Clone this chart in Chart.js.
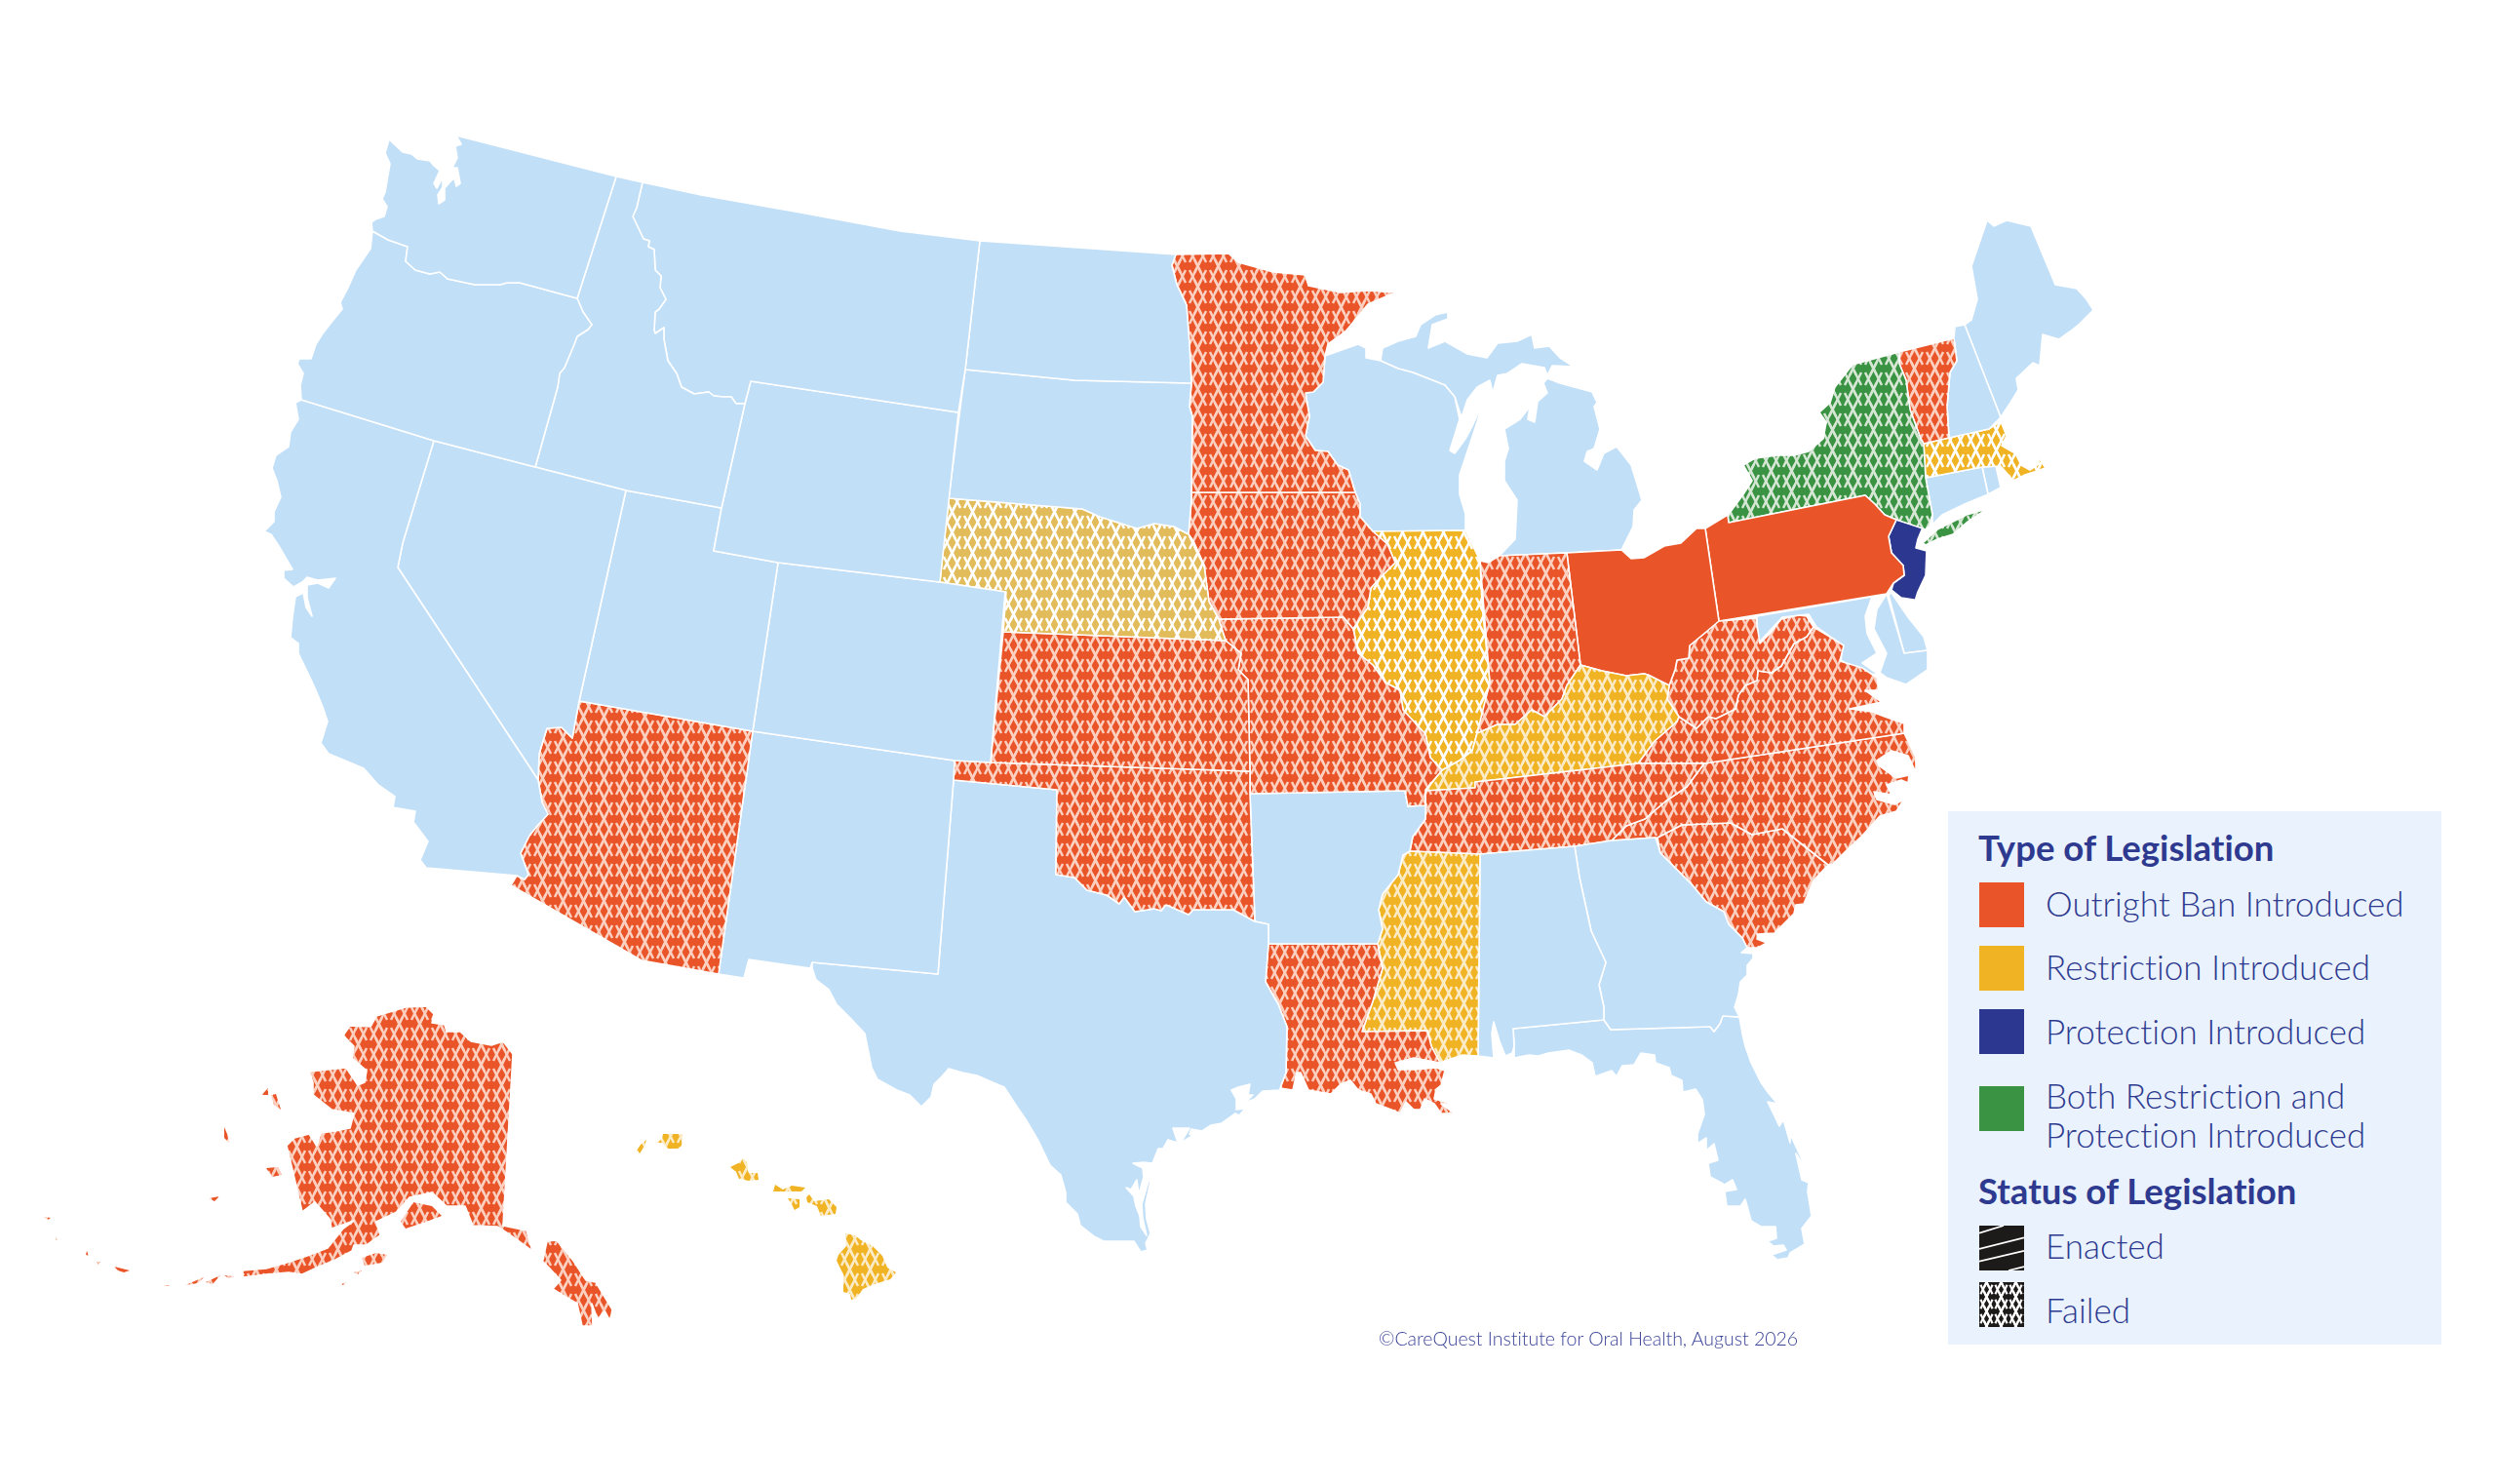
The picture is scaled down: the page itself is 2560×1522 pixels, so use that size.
<!DOCTYPE html>
<html>
<head>
<meta charset="utf-8">
<title>Legislation map</title>
<script src="https://cdn.jsdelivr.net/npm/chart.js@4/dist/chart.umd.min.js"></script>
<style>
  html, body { margin: 0; padding: 0; background: #fff; }
  #wrap { position: relative; width: 2560px; height: 1522px; overflow: hidden; font-family: Lato, sans-serif; color: #2E3A8F; font-variant-ligatures: none; }
  #mapChart { position: absolute; left: 0; top: 0; }
  #panel { position: absolute; left: 1998px; top: 832px; width: 506px; height: 547px; background: #EAF3FD; }
  .lab { position: absolute; white-space: nowrap; transform: translateY(-50%); font-size: 35px; font-weight: 300; line-height: 40px; }
  .head { position: absolute; white-space: nowrap; transform: translateY(-50%); font-size: 36.6px; font-weight: 700; line-height: 40px; }
  .sw { position: absolute; left: 2030px; width: 46px; height: 46px; }
  #credit { position: absolute; left: 1414px; top: 1372px; transform: translateY(-50%); font-size: 19.5px; font-weight: 300; color: #3A4497; white-space: nowrap; }
</style>
</head>
<body>
<div id="wrap">
  <canvas id="mapChart" width="2560" height="1522"></canvas>
  <div id="panel"></div>
  <div id="credit">©CareQuest Institute for Oral Health, August 2026</div>
</div>
<script>
const rev = a => [...a].reverse();

// legend text
const typeTitle = 'Type of Legislation';
const typeLabels = ['Outright Ban Introduced', 'Restriction Introduced', 'Protection Introduced', 'Both Restriction and', 'Protection Introduced'];
const statusTitle = 'Status of Legislation';
const statusLabels = ['Enacted', 'Failed'];

// which state falls in which group
const noBill = ['WA','OR','CA','NV','ID','MT','WY','UT','CO','NM','ND','SD','TX','AR','WI','MI','AL','GA','FL','ME','NH','CT','RI','MD','DE'];
const banFailed = ['AK','AZ','KS','OK','MO','IA','MN','LA','TN','IN','WV','VA','NC','SC','VT'];
const banEnacted = ['OH','PA'];
const restrictionFailed = ['IL','KY','MS','MA','HI','NE'];
const protectionEnacted = ['NJ'];
const bothFailed = ['NY'];

// shared borders, map units
const waOrRiver = [[592,306],[533,290],[520,290],[513,292],[487,292],[459,286],[451,279],[441,281],[426,277],[416,268],[418,253],[398,246],[382,237]];
const orIdRiver = [[592,306],[598,320],[607,333],[603,338],[592,345],[589,353],[579,377],[574,383],[572,397],[549,479]];
const idMtLine = [[659,187],[653,213],[649,222],[660,245],[666,247],[665,253],[671,256],[672,277],[678,283],[677,295],[683,307],[676,317],[672,320],[671,338],[672,342],[681,336],[681,348],[685,370],[694,383],[699,397],[712,404],[727,402],[732,406],[742,407],[750,407],[755,414],[764,414]];
const azRiver = [[587,757],[576,746],[561,747],[553,773],[552,800]];
const azCaRiver = [[552,800],[556,823],[562,835],[551,847],[543,857],[534,875],[542,897],[538,902],[530,898]];
const neTop = [[973,511],[1110,522],[1128,530],[1166,542],[1184,537],[1204,540],[1219,548]];
const iaWest = [[1219,548],[1224,555],[1235,580],[1240,617],[1250,635]];
const okBottom = [[1287,945],[1265,933],[1224,933],[1219,938],[1196,928],[1191,934],[1184,932],[1164,935],[1153,920],[1148,927],[1135,918],[1115,913],[1102,900],[1083,897],[1084,810]];
const moWest = [[1257,657],[1273,670],[1270,687],[1280,697],[1282,791]];
const mnWiLine = [[1359,365],[1357,392],[1347,402],[1339,403],[1343,427],[1339,447],[1349,462],[1362,463],[1372,477],[1383,482],[1390,505]];
const iaEastTop = [[1390,505],[1395,517],[1395,530],[1408,545]];
const iaIlLine = [[1408,545],[1423,558],[1431,577],[1416,592],[1406,603],[1403,623],[1393,637],[1388,645]];
const moEast = [[1388,645],[1393,670],[1408,682],[1421,700],[1436,708],[1439,728],[1462,753],[1467,777],[1479,790]];
const kyIl = [[1479,790],[1497,780],[1510,770],[1515,752]];
const ilIn = [[1515,752],[1528,700],[1520,620],[1518,575]];
const kyNorth = [[1515,752],[1536,743],[1554,743],[1571,728],[1584,735],[1602,717],[1607,703],[1621,682]];
const kyOh = [[1621,682],[1643,688],[1668,693],[1686,691],[1690,692],[1712,703]];
const ohWv = [[1712,703],[1718,687],[1720,677],[1732,675],[1733,662],[1750,648],[1758,630],[1763,637]];
const kyWv = [[1712,703],[1710,717],[1722,735]];
const kyVa = [[1722,735],[1720,740],[1697,760],[1680,783]];
const kyTn = [[1680,783],[1513,802],[1513,808],[1462,811]];
const wvVa = [[1722,735],[1740,747],[1752,735],[1760,737],[1780,727],[1783,713],[1790,703],[1802,698],[1803,688],[1817,690],[1827,683],[1840,660],[1853,653],[1860,643]];
const tnNc = [[1748,783],[1730,807],[1708,822],[1687,840],[1668,847],[1653,862]];
const ncSc = [[1700,859],[1725,846],[1775,844],[1797,856],[1828,850],[1875,887]];
const gaSc = [[1703,875],[1735,907],[1750,925],[1768,935],[1773,948],[1787,962],[1792,972]];
const alGa = [[1615,868],[1620,900],[1632,955],[1647,987],[1640,1010],[1645,1033],[1645,1046]];
const gaFl = [[1645,1046],[1652,1056],[1754,1053],[1758,1058],[1764,1050],[1767,1042],[1784,1043]];
const arMs = [[1446,873],[1439,877],[1434,897],[1418,917],[1414,933],[1418,953],[1413,968]];
const arTn = [[1462,826],[1462,840],[1449,858],[1446,873]];
const laMs = [[1413,968],[1418,993],[1408,1027],[1397,1058],[1464,1057],[1468,1073],[1477,1090]];
const txLa = [[1301,968],[1298,1007],[1311,1030],[1320,1053],[1319,1100],[1313,1116]];
const wiMi = [[1416,370],[1434,378],[1449,382],[1482,395],[1492,407],[1497,430]];
const nyPa = [[1773,536],[1913,508],[1923,517],[1933,528],[1945,533]];
const paNj = [[1945,533],[1937,550],[1940,567],[1952,580],[1953,590],[1942,598]];
const nyVt = [[1948,361],[1948,373],[1955,390],[1959,420],[1970,450],[1973,455]];
const vtNh = [[2004,347],[2007,370],[2000,382],[1997,417],[1999,449]];

// state outlines, map units
const washington = [[399,143],[413,156],[422,158],[428,163],[441,165],[445,170],[451,175],[445,188],[448,193],[454,182],[454,192],[449,200],[450,209],[456,205],[456,193],[463,185],[466,183],[468,191],[472,188],[469,172],[464,172],[469,162],[467,150],[473,148],[468,139],[632,181],...waOrRiver,[381,228],[385,225],[394,222],[397,212],[392,204],[395,197],[397,185],[400,168],[395,157]];
const oregon = [[382,237],...rev(waOrRiver),...orIdRiver,[445,452],[309,410],[308,395],[311,383],[305,373],[307,368],[319,368],[324,353],[331,342],[342,328],[351,317],[349,310],[357,295],[365,277],[380,255]];
const california = [[309,410],[445,452],[413,557],[408,582],[552,800],...azCaRiver.slice(1),[437,890],[431,882],[439,863],[424,843],[426,832],[403,828],[405,817],[388,805],[373,788],[354,780],[337,773],[329,762],[336,740],[331,725],[324,708],[319,697],[306,670],[306,660],[298,654],[300,633],[303,612],[311,608],[314,623],[320,632],[315,613],[315,600],[326,598],[337,603],[344,593],[326,595],[315,592],[310,597],[301,602],[291,593],[291,585],[300,584],[293,572],[286,560],[278,548],[271,545],[281,535],[281,525],[288,510],[284,493],[279,480],[283,467],[296,458],[298,443],[306,430],[303,413]];
const nevada = [[445,452],[549,479],[642,503],[594,719],...azRiver,[408,582],[413,557]];
const idaho = [[632,181],...idMtLine,[740,521],[642,503],[549,479],...rev(orIdRiver)];
const montana = [[659,187],[719,200],[821,218],[923,237],[1005,247],[990,379],[983,423],[770,391],[764,414],...rev(idMtLine).slice(1)];
const wyoming = [[770,391],[983,423],[964,597],[798,577],[732,565],[740,521],[764,414]];
const utah = [[642,503],[740,521],[732,565],[798,577],[772,750],[594,719]];
const colorado = [[798,577],[964,597],[1031,607],[1016,782],[979,780],[772,750]];
const arizona = [[594,719],[772,750],[737,999],[658,985],[524,908],...rev(azCaRiver),...rev(azRiver).slice(1)];
const newMexico = [[772,750],[979,780],[978,800],[962,999],[833,987],[831,993],[768,984],[763,1003],[737,999]];
const northDakota = [[1005,247],[1206,261],[1202,272],[1207,292],[1217,313],[1220,353],[1222,393],[1102,390],[990,379]];
const southDakota = [[990,379],[1102,390],[1222,393],[1220,417],[1223,427],[1222,505],[1222,513],...rev(neTop)];
const nebraska = [...neTop,...iaWest.slice(1),[1257,657],[1029,648],[1032,607],[964,597]];
const kansas = [[1029,648],...moWest,[1016,782]];
const oklahoma = [[979,780],[1016,782],[1282,791],[1282,814],...okBottom,[978,800]];
const texas = [[978,800],...rev(okBottom),[1301,948],...txLa,[1312,1118],[1295,1119],[1287,1127],[1277,1131],[1285,1123],[1280,1123],[1282,1112],[1270,1115],[1263,1118],[1268,1127],[1268,1138],[1277,1137],[1271,1144],[1267,1142],[1260,1147],[1253,1152],[1242,1154],[1233,1160],[1222,1158],[1220,1163],[1223,1165],[1211,1172],[1220,1157],[1210,1157],[1203,1157],[1208,1172],[1198,1169],[1193,1178],[1188,1178],[1182,1193],[1173,1192],[1162,1193],[1172,1198],[1173,1207],[1168,1225],[1166,1210],[1160,1220],[1155,1218],[1163,1227],[1165,1237],[1169,1247],[1170,1258],[1176,1267],[1172,1250],[1171,1235],[1178,1211],[1180,1212],[1175,1235],[1176,1250],[1180,1265],[1175,1275],[1177,1282],[1170,1284],[1163,1273],[1132,1273],[1122,1268],[1108,1257],[1105,1245],[1093,1233],[1093,1223],[1088,1205],[1077,1195],[1065,1170],[1052,1148],[1043,1135],[1030,1115],[1018,1110],[1002,1103],[987,1100],[973,1096],[967,1103],[958,1112],[955,1125],[945,1135],[933,1123],[920,1118],[900,1107],[894,1095],[887,1060],[873,1045],[858,1030],[850,1015],[837,1005],[833,993],[833,987],[962,999]];
const minnesota = [[1206,261],[1260,260],[1270,269],[1306,279],[1339,282],[1342,293],[1375,300],[1403,298],[1431,300],[1403,312],[1380,340],[1362,353],...mnWiLine,[1222,505],[1223,427],[1220,417],[1222,393],[1220,353],[1217,313],[1207,292],[1202,272]];
const iowa = [[1222,505],...rev(mnWiLine).slice(0,1),...iaEastTop.slice(1),...iaIlLine.slice(1),[1378,633],[1250,635],...rev(iaWest).slice(1),[1222,513]];
const missouri = [[1250,635],[1378,633],...moEast,[1462,810],[1462,826],[1444,827],[1441,811],[1282,814],...rev(moWest)];
const arkansas = [[1282,814],[1441,811],[1444,827],...arTn,...arMs.slice(1),[1301,968],[1301,948],[1287,945]];
const louisiana = [...txLa.slice(0,1),...laMs,[1450,1085],[1431,1090],[1434,1097],[1452,1097],[1473,1095],[1482,1098],[1478,1113],[1473,1117],[1471,1127],[1492,1133],[1478,1132],[1492,1142],[1478,1142],[1471,1132],[1461,1127],[1457,1138],[1450,1138],[1442,1130],[1436,1142],[1427,1138],[1411,1132],[1406,1122],[1393,1118],[1385,1108],[1375,1112],[1365,1122],[1342,1118],[1334,1100],[1330,1100],[1326,1118],...rev(txLa).slice(0,-1)];
const mississippi = [[1446,873],[1518,876],[1516,1083],[1500,1082],[1485,1087],[1477,1090],...rev(laMs).slice(1),...rev(arMs).slice(1)];
const alabama = [[1518,876],...alGa,[1552,1055],[1553,1073],[1551,1080],[1544,1083],[1538,1068],[1532,1048],[1530,1060],[1532,1085],[1516,1083]];
const georgia = [...alGa,...gaFl.slice(1),[1779,1033],[1783,1020],[1785,1007],[1792,1000],[1792,990],[1798,983],[1798,978],[1786,977],...rev(gaSc),[1698,859],[1653,862]];
const florida = [[1552,1055],...gaFl,[1787,1060],[1790,1073],[1796,1090],[1806,1110],[1813,1120],[1823,1132],[1813,1130],[1825,1155],[1829,1148],[1836,1172],[1836,1163],[1854,1202],[1842,1183],[1848,1210],[1855,1213],[1854,1222],[1858,1247],[1848,1260],[1851,1276],[1836,1285],[1834,1290],[1823,1292],[1817,1287],[1832,1282],[1829,1277],[1819,1278],[1813,1273],[1822,1270],[1821,1258],[1806,1258],[1796,1252],[1790,1230],[1785,1237],[1771,1237],[1769,1222],[1781,1220],[1777,1210],[1769,1215],[1754,1207],[1752,1193],[1762,1190],[1758,1173],[1750,1180],[1750,1167],[1741,1173],[1741,1163],[1748,1143],[1746,1128],[1739,1117],[1726,1120],[1725,1108],[1714,1103],[1712,1095],[1698,1090],[1697,1082],[1683,1080],[1676,1092],[1664,1093],[1658,1104],[1653,1098],[1636,1104],[1633,1090],[1622,1082],[1609,1077],[1588,1080],[1578,1083],[1568,1082],[1553,1085],[1553,1073]];
const tennessee = [...rev(kyTn),[1748,783],...tnNc,[1615,868],[1518,876],[1446,873],...rev(arTn).slice(1)];
const kentucky = [[1462,811],[1479,790],...kyIl.slice(1),...kyNorth.slice(1),...kyOh.slice(1),...kyWv.slice(1),...kyVa.slice(1),...kyTn.slice(1,-1)];
const illinois = [[1408,545],...iaIlLine.slice(1),...moEast.slice(1),...kyIl.slice(1),...ilIn.slice(1),[1503,544]];
const indiana = [[1518,575],[1526,577],[1538,570],[1607,567],[1621,682],...rev(kyNorth).slice(1),...rev(ilIn).slice(1,-1)];
const ohio = [[1607,567],[1663,564],[1673,573],[1686,572],[1707,560],[1724,557],[1740,542],[1749,542],[1763,637],...rev(ohWv).slice(2),...rev(kyOh)];
const westVirginia = [...ohWv,[1801,634],[1805,660],[1815,650],[1827,635],[1845,631],[1853,632],...rev(wvVa),...rev(kyWv).slice(1,-1)];
const virginia = [...wvVa,[1880,655],[1891,662],[1887,678],[1910,685],[1925,695],[1927,708],[1913,708],[1930,720],[1897,727],[1920,730],[1933,735],[1953,742],[1953,752],[1748,783],[1680,783],...rev(kyVa).slice(1,-1)];
const northCarolina = [[1748,783],...tnNc,[1700,859],...ncSc.slice(1),[1880,886],[1893,873],[1910,857],[1928,837],[1945,832],[1953,820],[1943,825],[1925,820],[1922,812],[1940,815],[1935,805],[1950,800],[1957,803],[1958,795],[1945,798],[1927,785],[1925,780],[1940,770],[1957,775],[1965,792],[1965,777],[1953,752]];
const southCarolina = [[1703,875],...ncSc,[1860,903],[1850,927],[1842,928],[1840,937],[1820,957],[1803,958],[1802,963],[1812,967],[1803,972],[1792,972],...rev(gaSc).slice(1,-1)];
const pennsylvania = [[1749,542],[1772,528],...nyPa,...paNj.slice(1),[1935,609],[1763,637]];
const newYork = [...nyPa,[1945,533],[1975,543],[1979,540],[1982,528],[1975,490],[1973,455],...rev(nyVt).slice(1),[1900,374],[1882,397],[1877,413],[1866,423],[1873,433],[1870,450],[1855,463],[1840,467],[1823,467],[1800,470],[1788,477],[1797,493],[1788,507],[1777,522],[1772,528]];
const longIsland = [[1972,557],[1987,543],[2017,528],[2038,522],[2017,536],[2003,548],[1987,553],[1975,559]];
const newJersey = [...paNj,[1940,605],[1950,613],[1963,615],[1962,623],[1967,607],[1975,590],[1976,565],[1965,562],[1967,553],[1972,541]];
const vermont = [...nyVt,...rev(vtNh)];
const newHampshire = [[2005,335],[2015,333],[2052,428],[2040,440],[1999,449],...rev(vtNh).slice(1)];
const maine = [[2015,333],[2022,328],[2028,307],[2022,273],[2038,226],[2045,232],[2058,226],[2083,232],[2108,292],[2130,296],[2140,307],[2147,318],[2133,332],[2123,340],[2112,348],[2095,343],[2092,375],[2085,372],[2068,388],[2070,400],[2062,413],[2052,428]];
const massachusetts = [[1973,455],[1999,449],[2040,440],[2052,432],[2058,447],[2053,457],[2067,465],[2073,477],[2082,482],[2092,475],[2087,463],[2098,480],[2077,487],[2065,493],[2052,478],[2033,479],[1975,490]];
const connecticut = [[1975,490],[2033,479],[2039,507],[2015,517],[1992,528],[1982,538],[1982,528]];
const rhodeIsland = [[2033,479],[2047,478],[2052,500],[2039,507]];
const marylandWest = [[1802,632],[1920,612],[1913,632],[1915,650],[1925,670],[1910,680],[1927,692],[1907,690],[1888,677],[1890,662],[1863,643],[1855,630],[1828,633],[1803,660]];
const marylandEast = [[1935,609],[1953,670],[1977,667],[1977,687],[1955,702],[1935,695],[1928,690],[1935,670],[1922,645],[1925,625]];
const delaware = [[1937,610],[1940,608],[1957,633],[1973,653],[1977,667],[1953,670]];
const wisconsin = [[1359,365],[1393,353],[1401,357],[1401,367],...wiMi,[1487,462],[1492,465],[1503,450],[1510,437],[1520,415],[1515,433],[1505,463],[1497,487],[1497,507],[1503,527],[1503,544],[1408,545],...rev(iaEastTop).slice(1),...rev(mnWiLine).slice(1,-1)];
const michiganUpper = [[1416,370],[1418,357],[1434,350],[1452,345],[1457,333],[1472,323],[1485,320],[1485,327],[1469,333],[1465,357],[1482,350],[1505,363],[1525,367],[1536,352],[1556,350],[1571,343],[1574,357],[1589,355],[1600,367],[1614,376],[1592,375],[1587,385],[1584,377],[1561,373],[1546,383],[1536,385],[1531,403],[1528,390],[1515,397],[1505,410],[1499,428],...rev(wiMi).slice(1,-1)];
const michiganLower = [[1587,388],[1600,393],[1633,402],[1638,413],[1635,417],[1641,440],[1635,460],[1628,463],[1625,473],[1638,482],[1645,465],[1658,458],[1673,477],[1681,503],[1684,513],[1676,523],[1675,540],[1663,564],[1607,567],[1538,570],[1554,553],[1556,513],[1543,493],[1543,473],[1547,460],[1543,440],[1559,430],[1569,417],[1567,430],[1574,433],[1577,412],[1587,403],[1583,393]];
const alaska = [[437,1032],[445,1040],[443,1049],[456,1051],[458,1058],[472,1058],[483,1068],[504,1072],[516,1068],[526,1081],[516,1257],[540,1262],[546,1283],[557,1292],[561,1273],[571,1272],[588,1293],[601,1313],[611,1315],[628,1343],[626,1355],[620,1345],[613,1353],[607,1337],[608,1360],[597,1360],[592,1337],[580,1330],[567,1322],[575,1313],[563,1300],[546,1283],[521,1265],[510,1258],[485,1257],[477,1237],[458,1237],[443,1223],[420,1228],[407,1243],[386,1253],[390,1267],[376,1277],[363,1277],[361,1283],[344,1292],[325,1300],[310,1307],[296,1305],[273,1307],[249,1310],[249,1303],[273,1301],[294,1295],[315,1288],[336,1280],[352,1260],[363,1252],[340,1260],[338,1250],[323,1233],[310,1243],[304,1217],[300,1200],[294,1175],[302,1167],[317,1163],[325,1175],[329,1162],[344,1160],[359,1157],[363,1142],[340,1138],[321,1123],[321,1110],[317,1099],[355,1095],[367,1113],[374,1110],[376,1098],[361,1085],[363,1073],[352,1062],[359,1052],[380,1053],[386,1042],[416,1033]];
const kenai = [[424,1233],[443,1237],[453,1247],[437,1253],[416,1260],[411,1253]];
const kodiak = [[386,1285],[397,1287],[392,1295],[374,1298],[371,1290]];
const alaskaIslands = [
  [[268,1123],[275,1116],[275,1123]], [[278,1123],[283,1122],[288,1138],[281,1133]], [[273,1198],[285,1197],[289,1205],[279,1207]],
  [[230,1156],[233,1163],[235,1172],[230,1167]], [[214,1229],[225,1227],[220,1232]], [[45,1248],[52,1249],[49,1251]],
  [[57,1268],[59,1272],[57,1272]], [[89,1283],[91,1288],[88,1287]], [[117,1299],[133,1303],[127,1305],[121,1303]],
  [[99,1294],[103,1294],[101,1297]], [[168,1318],[174,1318],[171,1319]], [[190,1318],[209,1310],[203,1316]],
  [[211,1315],[226,1308],[218,1317]], [[230,1308],[240,1309],[235,1311]], [[363,1305],[371,1303],[367,1307]], [[350,1317],[355,1315],[352,1318]]
];
const hawaiiIslands = [
  [[680,1163],[700,1163],[699,1175],[695,1178],[685,1178],[679,1172],[673,1172],[679,1168]],
  [[663,1169],[661,1177],[656,1183],[653,1180],[657,1174]],
  [[762,1188],[766,1192],[768,1203],[777,1203],[778,1210],[768,1211],[758,1209],[755,1202],[749,1197],[757,1193]],
  [[795,1215],[803,1220],[812,1216],[826,1218],[822,1222],[800,1222],[793,1222]],
  [[808,1229],[820,1230],[820,1238],[815,1241],[812,1235]],
  [[830,1225],[835,1232],[850,1230],[858,1238],[857,1245],[842,1247],[838,1237],[828,1233],[827,1228]],
  [[867,1265],[877,1267],[883,1272],[895,1278],[905,1288],[910,1300],[919,1305],[913,1312],[897,1317],[885,1322],[878,1332],[873,1333],[872,1327],[865,1325],[865,1307],[858,1293],[860,1287],[868,1278]]
];

const shapes = {
  WA:[washington], OR:[oregon], CA:[california], NV:[nevada], ID:[idaho], MT:[montana], WY:[wyoming], UT:[utah], CO:[colorado],
  AZ:[arizona], NM:[newMexico], ND:[northDakota], SD:[southDakota], NE:[nebraska], KS:[kansas], OK:[oklahoma], TX:[texas],
  MN:[minnesota], IA:[iowa], MO:[missouri], AR:[arkansas], LA:[louisiana], MS:[mississippi], AL:[alabama], GA:[georgia], FL:[florida],
  TN:[tennessee], KY:[kentucky], IL:[illinois], IN:[indiana], OH:[ohio], WV:[westVirginia], VA:[virginia], NC:[northCarolina], SC:[southCarolina],
  PA:[pennsylvania], NY:[newYork, longIsland], NJ:[newJersey], VT:[vermont], NH:[newHampshire], ME:[maine], MA:[massachusetts], CT:[connecticut], RI:[rhodeIsland],
  MD:[marylandWest, marylandEast], DE:[delaware], WI:[wisconsin], MI:[michiganUpper, michiganLower],
  AK:[alaska, kenai, kodiak, ...alaskaIslands], HI:hawaiiIslands
};

const BLUE = '#C2DFF8', ORANGE = '#E95529', YELLOW = '#F0B323', NAVY = '#2C3890', GREEN = '#3A9342', MUSTARD = '#E2BC5A';

// failed = column of diamonds, edges run on past the corners so they cross as an X
function latticeTile(size, fill, line, lw) {
  const c = document.createElement('canvas');
  c.width = size; c.height = size;
  const g = c.getContext('2d');
  g.fillStyle = fill;
  g.fillRect(0, 0, size, size);
  g.strokeStyle = line;
  g.lineWidth = lw;
  g.lineCap = 'butt';
  const hw = size * 0.25, hh = size * 0.5, t = 0.62;
  for (let ox = -size; ox <= size; ox += size) {
    for (let oy = -size; oy <= size; oy += size) {
      const cx = ox + size / 2, cy = oy + size / 2;
      [[1, 1], [-1, 1], [1, -1], [-1, -1]].forEach(s => {
        const ax = cx, ay = cy + s[1] * hh, bx = cx + s[0] * hw, by = cy;
        const dx = bx - ax, dy = by - ay;
        g.beginPath();
        g.moveTo(ax - dx * t, ay - dy * t);
        g.lineTo(bx + dx * t, by + dy * t);
        g.stroke();
      });
    }
  }
  return c;
}

const patternCtx = document.createElement('canvas').getContext('2d');
const failedFill = (fill, line) => patternCtx.createPattern(latticeTile(21, fill, line, 2.5), 'repeat');
const orangeLattice = failedFill(ORANGE, '#FBD0C0');
const yellowWhite = failedFill(YELLOW, '#FFFFFF');
const yellowCream = failedFill(YELLOW, '#FBEBC6');
const mustardLattice = failedFill(MUSTARD, '#FFFFFF');
const greenLattice = failedFill(GREEN, '#D6E6D4');

function stateFill(code) {
  if (noBill.includes(code)) return BLUE;
  if (banEnacted.includes(code)) return ORANGE;
  if (banFailed.includes(code)) return orangeLattice;
  if (protectionEnacted.includes(code)) return NAVY;
  if (bothFailed.includes(code)) return greenLattice;
  if (code === 'NE') return mustardLattice;
  if (code === 'IL' || code === 'MA') return yellowWhite;
  return yellowCream;
}

const datasets = [];
Object.keys(shapes).forEach(code => {
  const paint = stateFill(code);
  shapes[code].forEach(outline => {
    const data = outline.map(p => ({ x: p[0], y: p[1] }));
    data.push({ x: outline[0][0], y: outline[0][1] });
    const small = code === 'AK' && outline !== alaska || code === 'HI';
    datasets.push({
      label: code,
      data,
      showLine: true,
      fill: 'shape',
      backgroundColor: paint,
      borderColor: small ? 'rgba(255,255,255,0)' : '#FFFFFF',
      borderWidth: small ? 0 : 1.6,
      borderJoinStyle: 'round',
      pointRadius: 0,
      tension: 0,
      clip: false
    });
  });
});

new Chart(document.getElementById('mapChart').getContext('2d'), {
  type: 'scatter',
  data: { datasets },
  options: {
    responsive: false,
    devicePixelRatio: 1,
    animation: false,
    events: [],
    layout: { padding: 0 },
    plugins: { legend: { display: false }, tooltip: { enabled: false } },
    scales: {
      x: { type: 'linear', display: false, min: 0, max: 2560 },
      y: { type: 'linear', display: false, min: 0, max: 1522, reverse: true }
    }
  }
});

// legend panel
const wrap = document.getElementById('wrap');
function addText(cls, text, left, y) {
  const el = document.createElement('div');
  el.className = cls;
  el.textContent = text;
  el.style.left = left + 'px';
  el.style.top = y + 'px';
  wrap.appendChild(el);
}
function addSwatch(top, color) {
  const el = document.createElement('div');
  el.className = 'sw';
  el.style.top = top + 'px';
  el.style.background = color;
  wrap.appendChild(el);
}
function addCanvasSwatch(top, draw) {
  const c = document.createElement('canvas');
  c.className = 'sw';
  c.width = 46; c.height = 46;
  c.style.top = top + 'px';
  draw(c.getContext('2d'));
  wrap.appendChild(c);
}

addText('head', typeTitle, 2029, 869);
[[905, ORANGE], [970, YELLOW], [1035, NAVY], [1114, GREEN]].forEach(s => addSwatch(s[0], s[1]));
[925.5, 990.5, 1056.5, 1122.5, 1162.5].forEach((y, i) => addText('lab', typeLabels[i], 2098, y));
addText('head', statusTitle, 2029, 1220.5);
addText('lab', statusLabels[0], 2098, 1276.5);
addText('lab', statusLabels[1], 2098, 1342.5);

addCanvasSwatch(1257, g => {
  g.fillStyle = '#1D1A1A';
  g.fillRect(0, 0, 46, 46);
  g.strokeStyle = '#fff';
  g.lineWidth = 1.8;
  [[0, 7.6, 25, 0], [0, 24, 46, 12.4], [0, 36.7, 46, 25.8], [30, 46, 46, 42]].forEach(l => {
    g.beginPath(); g.moveTo(l[0], l[1]); g.lineTo(l[2], l[3]); g.stroke();
  });
});
addCanvasSwatch(1315, g => {
  g.fillStyle = g.createPattern(latticeTile(15, '#1D1A1A', '#FFFFFF', 2.2), 'repeat');
  g.fillRect(0, 0, 46, 46);
});
</script>
</body>
</html>
